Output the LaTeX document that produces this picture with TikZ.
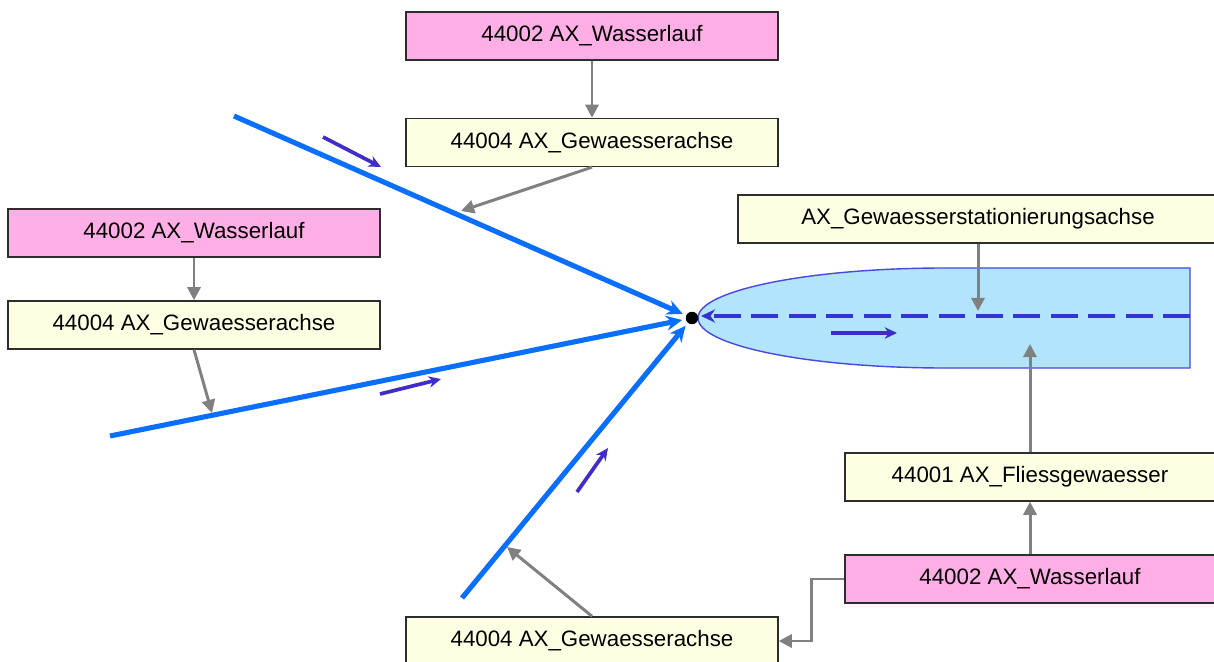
\documentclass[tikz,border=0pt]{standalone}
\usepackage{fontspec}
\setmainfont{Liberation Sans}
\usetikzlibrary{arrows.meta,positioning}
\definecolor{axpink}{RGB}{255,174,230}
\definecolor{axyellow}{RGB}{255,255,228}
\definecolor{axframe}{RGB}{45,45,45}
\definecolor{axgray}{RGB}{128,128,128}
\definecolor{axblue}{RGB}{10,110,255}
\definecolor{axflow}{RGB}{64,44,200}
\definecolor{axdash}{RGB}{52,52,210}
\definecolor{axwater}{RGB}{178,228,252}
\definecolor{axrim}{RGB}{72,72,220}
\tikzset{
  objbox/.style={draw=axframe, line width=0.85pt, minimum height=0.96cm, inner sep=0pt, font=\fontsize{12.7}{15}\selectfont},
  laufbox/.style={objbox, fill=axpink, minimum width=7.44cm},
  achsbox/.style={objbox, fill=axyellow, minimum width=7.44cm},
  reflink/.style={draw=axgray, line width=1.7pt, -{Triangle[length=7.5pt,width=7.5pt]}},
  gewline/.style={draw=axblue, line width=2.9pt, shorten >=2pt, -{Stealth[length=9pt,width=8.5pt]}},
  flowarrow/.style={draw=axflow, line width=2.1pt, -{Stealth[length=7pt,width=6.5pt]}},
}

\begin{document}
\begin{tikzpicture}[x=0.02cm, y=-0.02cm]
  \useasboundingbox (0,0) rectangle (1214,662);

  % water body with its station axis
  \draw[axrim, fill=axwater, line width=0.8pt] (1190,268) -- (945,268) .. controls (808.6,268) and (698,290.4) .. (698,318) .. controls (698,345.6) and (808.6,368) .. (945,368) -- (1190,368) -- cycle;
  \node[circle, fill=black, inner sep=0pt, minimum size=0.25cm] (junc) at (692,318) {};
  \coordinate (axend) at (1190,316);
  \draw[axdash, line width=2.3pt, dash pattern=on 15.3pt off 6pt, -{Stealth[length=8pt,width=7.5pt]}] (axend) -- (701,316);

  % incoming water axes
  \coordinate (src1) at (234,116);
  \coordinate (src2) at (110,436);
  \coordinate (src3) at (462,598);
  \draw[gewline] (src1) -- (junc);
  \draw[gewline] (src2) -- (junc);
  \draw[gewline] (src3) -- (junc);

  % flow direction
  \draw[flowarrow] (323,137) -- (381,167);
  \draw[flowarrow] (380,394) -- (441,379);
  \draw[flowarrow] (577,492) -- (608,448);
  \draw[flowarrow] (831,333) -- (897,333);

  % objects
  \node[laufbox] (lauf1) at (592,36) {44002 AX\_Wasserlauf};
  \node[achsbox] (achse1) at (592,142.5) {44004 AX\_Gewaesserachse};
  \node[laufbox] (lauf2) at (194,233) {44002 AX\_Wasserlauf};
  \node[achsbox] (achse2) at (194,325) {44004 AX\_Gewaesserachse};
  \node[achsbox, minimum width=9.6cm] (station) at (978,219) {AX\_Gewaesserstationierungsachse};
  \node[achsbox, minimum width=7.4cm] (fliess) at (1030,477) {44001 AX\_Fliessgewaesser};
  \node[laufbox, minimum width=7.4cm] (lauf3) at (1030,579) {44002 AX\_Wasserlauf};
  \node[achsbox] (achse3) at (592,641) {44004 AX\_Gewaesserachse};

  % references
  \coordinate (hitA) at (461,211);
  \coordinate (hitB) at (212,413);
  \coordinate (hitC) at (978,311);
  \coordinate (hitD) at (1030,344);
  \coordinate (hitE) at (507,547);
  \draw[reflink] (lauf1) -- (achse1);
  \draw[reflink] (achse1.south) -- (hitA);
  \draw[reflink] (lauf2) -- (achse2);
  \draw[reflink] (achse2.south) -- (hitB);
  \draw[reflink] (station.south) -- (hitC);
  \draw[reflink] (fliess.north) -- (hitD);
  \draw[reflink] (lauf3.north) -- (fliess.south);
  \draw[reflink] (lauf3.west) -- ++(-33,0) |- (achse3.east);
  \draw[reflink] (achse3.north) -- (hitE);
\end{tikzpicture}
\end{document}
